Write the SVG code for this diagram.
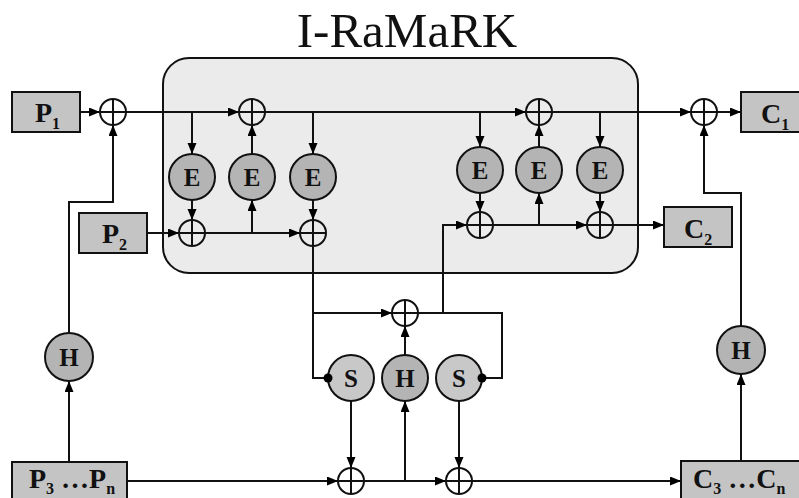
<svg xmlns="http://www.w3.org/2000/svg" width="799" height="498" viewBox="0 0 799 498">
<defs>
<marker id="arr" markerUnits="userSpaceOnUse" markerWidth="12" markerHeight="10" refX="11" refY="4.5" orient="auto">
<path d="M0,0 L11,4.5 L0,9 z" fill="#000"/>
</marker>
<style>
.box{fill:#c4c4c4;stroke:#111;stroke-width:2}
.node{fill:#b4b4b4;stroke:#111;stroke-width:2}
.snode{fill:#c8c8c8;stroke:#111;stroke-width:2}
.xor{fill:none;stroke:#111;stroke-width:2}
.ln{fill:none;stroke:#111;stroke-width:2}
.ar{marker-end:url(#arr)}
.lbl{font-family:"Liberation Serif","Times New Roman",serif;font-weight:bold;fill:#111}
.big{font-size:28px}
.sub{font-size:16px}
.c{font-size:25px;text-anchor:middle}
</style>
</defs>
<rect width="799" height="498" fill="#fff"/>
<text x="407" y="47" font-family="Liberation Serif, serif" font-size="49" text-anchor="middle" fill="#111">I-RaMaRK</text>
<rect id="core" x="163" y="58" width="475" height="215" rx="26" fill="#ebebeb" stroke="#111" stroke-width="2"/>

<g id="connectors">
<path class="ln ar" d="M80,112 H100"/>
<path class="ln ar" d="M126,112 H239"/>
<path class="ln ar" d="M192,112 V154"/>
<path class="ln ar" d="M192,200 V220"/>
<path class="ln ar" d="M252,154 V125"/>
<path class="ln ar" d="M252,233 V200"/>
<path class="ln ar" d="M265,112 H526"/>
<path class="ln ar" d="M313,112 V154"/>
<path class="ln ar" d="M313,200 V220"/>
<path class="ln ar" d="M147,233 H179"/>
<path class="ln ar" d="M205,233 H300"/>
<path class="ln" d="M313,246 V378 H328"/>
<path class="ln ar" d="M313,313 H392"/>
<path class="ln" d="M418,313 H502 V378 H482"/>
<path class="ln ar" d="M443,313 V225 H467"/>
<path class="ln ar" d="M405,355 V326"/>
<path class="ln ar" d="M127,481 H338"/>
<path class="ln ar" d="M351,401 V468"/>
<path class="ln ar" d="M364,481 H446"/>
<path class="ln ar" d="M405,481 V401"/>
<path class="ln ar" d="M459,401 V468"/>
<path class="ln ar" d="M472,481 H681"/>
<path class="ln ar" d="M480,112 V147"/>
<path class="ln ar" d="M480,193 V212"/>
<path class="ln ar" d="M493,225 H587"/>
<path class="ln ar" d="M539,225 V193"/>
<path class="ln ar" d="M539,147 V125"/>
<path class="ln ar" d="M600,112 V147"/>
<path class="ln ar" d="M600,193 V212"/>
<path class="ln ar" d="M613,225 H664"/>
<path class="ln ar" d="M552,112 H691"/>
<path class="ln ar" d="M717,112 H741"/>
<path class="ln ar" d="M741,461 V374"/>
<path class="ln ar" d="M741,326 V193 H704 V125"/>
<path class="ln ar" d="M69,462 V381"/>
<path class="ln ar" d="M69,333 V202 H113 V125"/>
</g>

<g id="xors">
<g id="x1"><circle class="xor" cx="113" cy="112" r="13"/><path class="ln" d="M100,112 H126 M113,99 V125"/></g>
<g id="x2"><circle class="xor" cx="252" cy="112" r="13"/><path class="ln" d="M239,112 H265 M252,99 V125"/></g>
<g id="x3"><circle class="xor" cx="539" cy="112" r="13"/><path class="ln" d="M526,112 H552 M539,99 V125"/></g>
<g id="x4"><circle class="xor" cx="704" cy="112" r="13"/><path class="ln" d="M691,112 H717 M704,99 V125"/></g>
<g id="x5"><circle class="xor" cx="192" cy="233" r="13"/><path class="ln" d="M179,233 H205 M192,220 V246"/></g>
<g id="x6"><circle class="xor" cx="313" cy="233" r="13"/><path class="ln" d="M300,233 H326 M313,220 V246"/></g>
<g id="x7"><circle class="xor" cx="480" cy="225" r="13"/><path class="ln" d="M467,225 H493 M480,212 V238"/></g>
<g id="x8"><circle class="xor" cx="600" cy="225" r="13"/><path class="ln" d="M587,225 H613 M600,212 V238"/></g>
<g id="x9"><circle class="xor" cx="405" cy="313" r="13"/><path class="ln" d="M392,313 H418 M405,300 V326"/></g>
<g id="x10"><circle class="xor" cx="351" cy="481" r="13"/><path class="ln" d="M338,481 H364 M351,468 V494"/></g>
<g id="x11"><circle class="xor" cx="459" cy="481" r="13"/><path class="ln" d="M446,481 H472 M459,468 V494"/></g>
</g>

<g id="E1"><circle class="node" cx="192" cy="177" r="23"/><text class="lbl c" x="192" y="186">E</text></g>
<g id="E2"><circle class="node" cx="252" cy="177" r="23"/><text class="lbl c" x="252" y="186">E</text></g>
<g id="E3"><circle class="node" cx="313" cy="177" r="23"/><text class="lbl c" x="313" y="186">E</text></g>
<g id="E4"><circle class="node" cx="480" cy="170" r="23"/><text class="lbl c" x="480" y="179">E</text></g>
<g id="E5"><circle class="node" cx="539" cy="170" r="23"/><text class="lbl c" x="539" y="179">E</text></g>
<g id="E6"><circle class="node" cx="600" cy="170" r="23"/><text class="lbl c" x="600" y="179">E</text></g>
<g id="S1"><circle class="snode" cx="351" cy="378" r="23"/><text class="lbl c" x="351" y="387">S</text><circle cx="328" cy="378" r="4.5" fill="#000"/></g>
<g id="Hm"><circle class="node" cx="405" cy="378" r="23"/><text class="lbl c" x="405" y="387">H</text></g>
<g id="S2"><circle class="snode" cx="459" cy="378" r="23"/><text class="lbl c" x="459" y="387">S</text><circle cx="482" cy="378" r="4.5" fill="#000"/></g>
<g id="HL"><circle class="node" cx="69" cy="357" r="24"/><text class="lbl c" x="69" y="366">H</text></g>
<g id="HR"><circle class="node" cx="741" cy="350" r="24"/><text class="lbl c" x="741" y="359">H</text></g>

<g id="P1"><rect class="box" x="12" y="92" width="68" height="40"/><text class="lbl big" x="35" y="122">P<tspan class="sub" dy="7">1</tspan></text></g>
<g id="P2"><rect class="box" x="79" y="213" width="68" height="40"/><text class="lbl big" x="102" y="243">P<tspan class="sub" dy="7">2</tspan></text></g>
<g id="C1"><rect class="box" x="741" y="92" width="70" height="40"/><text class="lbl big" x="761" y="123">C<tspan class="sub" dy="7">1</tspan></text></g>
<g id="C2"><rect class="box" x="664" y="207" width="68" height="40"/><text class="lbl big" x="684" y="238">C<tspan class="sub" dy="7">2</tspan></text></g>
<g id="Pn"><rect class="box" x="12" y="462" width="115" height="50"/><text class="lbl big" x="29" y="488">P<tspan class="sub" dy="6">3</tspan><tspan dy="-6"> …P</tspan><tspan class="sub" dy="6">n</tspan></text></g>
<g id="Cn"><rect class="box" x="681" y="461" width="130" height="50"/><text class="lbl big" x="693" y="488">C<tspan class="sub" dy="6">3</tspan><tspan dy="-6"> …C</tspan><tspan class="sub" dy="6">n</tspan></text></g>
</svg>
